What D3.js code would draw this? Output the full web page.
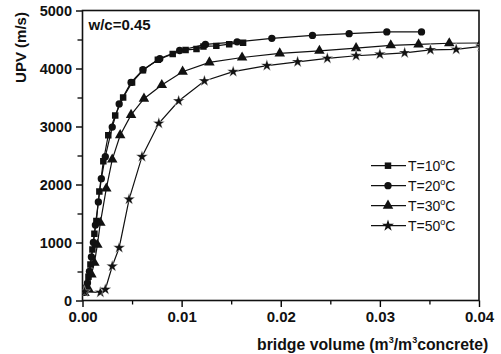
<!DOCTYPE html>
<html>
<head>
<meta charset="utf-8">
<script src="https://cdn.jsdelivr.net/npm/d3@7"></script>
<style>
  html, body { margin: 0; padding: 0; background: #fff; }
  svg { display: block; font-family: "Liberation Sans", Arial, sans-serif; }
</style>
</head>
<body>
<div id="chart"></div>
<script>
// bridge volume (m3/m3 concrete) vs UPV (m/s), one list per curing temperature
const t10 = [[0.0002,150],[0.0004,220],[0.0006,410],[0.0008,620],[0.0010,880],[0.0012,1150],[0.0014,1370],
  [0.0017,1880],[0.0021,2400],[0.0026,2850],[0.0033,3190],[0.0041,3500],[0.0050,3760],[0.0061,3970],
  [0.0076,4150],[0.0091,4250],[0.0104,4320],[0.0115,4335],[0.0122,4380],[0.0135,4390],[0.0148,4420],[0.0162,4445]];
const t20 = [[0.0002,140],[0.0005,300],[0.0007,500],[0.0009,750],[0.0011,1000],[0.0013,1300],[0.0016,1700],
  [0.0019,2100],[0.0023,2480],[0.0030,2990],[0.0037,3390],[0.0049,3760],[0.0061,3980],[0.0078,4170],
  [0.0098,4310],[0.0124,4415],[0.0156,4460],[0.0191,4520],[0.0232,4570],[0.0269,4600],[0.0307,4630],[0.0342,4630]];
const t30 = [[0.0002,130],[0.0006,200],[0.0009,450],[0.0012,650],[0.0015,960],[0.0018,1340],[0.0024,1930],
  [0.0030,2430],[0.0038,2850],[0.0049,3200],[0.0062,3480],[0.0080,3715],[0.0101,3945],[0.0128,4105],
  [0.0161,4190],[0.0199,4260],[0.0239,4305],[0.0276,4350],[0.0311,4400],[0.0339,4415],[0.0370,4435],[0.0402,4440]];
const t50 = [[0.0002,150],[0.0018,140],[0.0023,190],[0.0030,590],[0.0037,910],[0.0047,1745],[0.0060,2480],
  [0.0077,3055],[0.0097,3440],[0.0123,3785],[0.0152,3945],[0.0186,4050],[0.0217,4115],[0.0247,4175],
  [0.0276,4220],[0.0300,4245],[0.0325,4270],[0.0351,4320],[0.0377,4330],[0.0402,4380]];

const seriesNames = ['10', '20', '30', '50'];
const seriesData = [t10, t20, t30, t50];
const seriesSymbols = [d3.symbolSquare, d3.symbolCircle, d3.symbolTriangle, d3.symbolStar];
const symbolSizes = [42, 42, 48, 44];

const xTicks = [0, 0.01, 0.02, 0.03, 0.04];
const xTickLabels = ['0.00', '0.01', '0.02', '0.03', '0.04'];
const yTicks = [0, 1000, 2000, 3000, 4000, 5000];

const width = 501, height = 354;
const plot = { left: 82.5, right: 479, top: 10.5, bottom: 300.5 };

const svg = d3.select('#chart').append('svg')
  .attr('width', width)
  .attr('height', height);

const x = d3.scaleLinear().domain([0, 0.04]).range([plot.left, plot.right]);
const y = d3.scaleLinear().domain([0, 5000]).range([plot.bottom, plot.top]);

svg.append('clipPath').attr('id', 'plotclip')
  .append('rect')
  .attr('x', plot.left).attr('y', plot.top)
  .attr('width', plot.right - plot.left).attr('height', plot.bottom - plot.top);

// minor ticks first, then major axes
svg.append('g')
  .attr('transform', `translate(0,${plot.bottom})`)
  .call(d3.axisBottom(x).tickValues(d3.range(0.005, 0.04, 0.01)).tickSize(4).tickFormat(''))
  .call(g => g.select('.domain').remove())
  .selectAll('line').attr('stroke-width', 1.3);

svg.append('g')
  .attr('transform', `translate(${plot.left},0)`)
  .call(d3.axisLeft(y).tickValues(d3.range(500, 5000, 1000)).tickSize(5).tickFormat(''))
  .call(g => g.select('.domain').remove())
  .selectAll('line').attr('stroke-width', 1.3);

const xAxis = svg.append('g')
  .attr('transform', `translate(0,${plot.bottom})`)
  .call(d3.axisBottom(x).tickValues(xTicks).tickSize(6.5).tickPadding(4)
    .tickFormat((d, i) => xTickLabels[i]));
xAxis.select('.domain').remove();
xAxis.selectAll('line').attr('stroke-width', 1.4);
xAxis.selectAll('text')
  .attr('font-family', '"Liberation Sans", Arial, sans-serif')
  .attr('font-size', 15).attr('font-weight', 'bold').attr('fill', '#111');

const yAxis = svg.append('g')
  .attr('transform', `translate(${plot.left},0)`)
  .call(d3.axisLeft(y).tickValues(yTicks).tickSize(6.5).tickPadding(4).tickFormat(d3.format('d')));
yAxis.select('.domain').remove();
yAxis.selectAll('line').attr('stroke-width', 1.4);
yAxis.selectAll('text')
  .attr('font-family', '"Liberation Sans", Arial, sans-serif')
  .attr('font-size', 14.5).attr('font-weight', 'bold').attr('fill', '#111');

// frame
svg.append('rect')
  .attr('x', plot.left).attr('y', plot.top)
  .attr('width', plot.right - plot.left).attr('height', plot.bottom - plot.top)
  .attr('fill', 'none').attr('stroke', '#111').attr('stroke-width', 1.6);

const line = d3.line().x(d => x(d[0])).y(d => y(d[1]));

const dataLayer = svg.append('g').attr('clip-path', 'url(#plotclip)');

seriesData.forEach((data, i) => {
  dataLayer.append('path')
    .datum(data)
    .attr('d', line)
    .attr('fill', 'none')
    .attr('stroke', '#111')
    .attr('stroke-width', 1.2);

  dataLayer.selectAll(null)
    .data(data)
    .enter()
    .append('path')
    .attr('transform', d => `translate(${x(d[0])},${y(d[1])})`)
    .attr('d', d3.symbol().type(seriesSymbols[i]).size(symbolSizes[i]))
    .attr('fill', '#111')
    .attr('stroke', i === 3 ? '#fff' : 'none')
    .attr('stroke-width', 0.4);
});

// annotation
svg.append('text')
  .attr('x', 88.5).attr('y', 30)
  .attr('font-size', 15).attr('font-weight', 'bold').attr('fill', '#111')
  .text('w/c=0.45');

// legend
const legend = svg.append('g');
seriesNames.forEach((name, i) => {
  const cy = 165.7 + i * 20;
  legend.append('line')
    .attr('x1', 371).attr('x2', 406).attr('y1', cy).attr('y2', cy)
    .attr('stroke', '#111').attr('stroke-width', 1.2);
  legend.append('path')
    .attr('transform', `translate(388,${cy})`)
    .attr('d', d3.symbol().type(seriesSymbols[i]).size(symbolSizes[i]))
    .attr('fill', '#111');
  const t = legend.append('text')
    .attr('x', 408).attr('y', cy + 5)
    .attr('font-size', 14).attr('fill', '#111');
  t.append('tspan').text(`T=${name}`);
  t.append('tspan').attr('font-size', 9).attr('dy', -6).text('o');
  t.append('tspan').attr('dy', 6).text('C');
});

// axis titles
const xt = svg.append('text')
  .attr('x', 257).attr('y', 350)
  .attr('font-size', 15.8).attr('font-weight', 'bold').attr('fill', '#111');
xt.append('tspan').text('bridge volume (m');
xt.append('tspan').attr('font-size', 9).attr('dy', -7).text('3');
xt.append('tspan').attr('dy', 7).text('/m');
xt.append('tspan').attr('font-size', 9).attr('dy', -7).text('3');
xt.append('tspan').attr('dy', 7).text('concrete)');

svg.append('text')
  .attr('transform', 'translate(25.5,47.5) rotate(-90)')
  .attr('text-anchor', 'middle')
  .attr('font-size', 15).attr('font-weight', 'bold').attr('fill', '#111')
  .text('UPV (m/s)');
</script>
</body>
</html>
